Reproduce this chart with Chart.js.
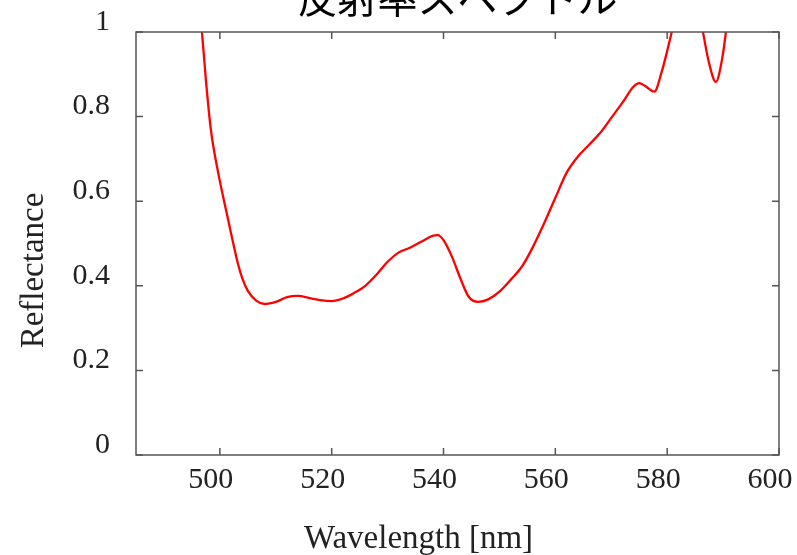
<!DOCTYPE html>
<html lang="ja">
<head>
<meta charset="UTF-8">
<title>反射率スペクトル</title>
<script src="https://cdn.jsdelivr.net/npm/chart.js@4.4.1/dist/chart.umd.min.js"></script>
<style>
  html, body { margin: 0; padding: 0; background: #fff; }
  .wrap { width: 797px; height: 555px; position: relative; }
</style>
</head>
<body>
<div class="wrap"><canvas id="spec"></canvas></div>
<script>
// values
const wavelengths = [495.8, 496.8, 497.5, 498.4, 499.6, 501.1, 502.2, 503.2, 504, 505, 506.5, 508, 510, 512, 514, 516, 518, 520,
  522, 524, 526, 528, 530, 532, 534, 536, 538, 539, 540, 541.5, 543, 544.5, 546.2, 548, 550, 552, 554,
  556, 558, 560, 562, 564, 566, 568, 570, 572, 574, 575, 576, 577.7, 579, 580, 581, 583, 585, 586.4,
  587.5, 588.7, 589.9, 590.5, 591.5];
const reflectance = [1.17, 1.0, 0.887, 0.768, 0.674, 0.579, 0.512, 0.454, 0.418, 0.388, 0.365, 0.357, 0.362, 0.373, 0.376, 0.371, 0.366, 0.364,
  0.37, 0.383, 0.4, 0.426, 0.457, 0.479, 0.49, 0.504, 0.518, 0.52, 0.508, 0.469, 0.418, 0.374, 0.362, 0.368, 0.386, 0.414, 0.445,
  0.492, 0.548, 0.608, 0.667, 0.705, 0.733, 0.761, 0.797, 0.833, 0.871, 0.879, 0.873, 0.859, 0.905, 0.955, 1.01, 1.12, 1.1, 1.0,
  0.926, 0.882, 0.942, 1.0, 1.12];
const xTicks = [500, 520, 540, 560, 580, 600];
const yTicks = [0, 0.2, 0.4, 0.6, 0.8, 1];
const chartTitle = "反射率スペクトル";
const xTitle = "Wavelength [nm]";
const yTitle = "Reflectance";

const serif = "'Liberation Serif', 'Times New Roman', serif";

// box round the plot, inward ticks on all four sides, axis titles
const frame = {
  id: 'frame',
  afterDatasetsDraw(chart) {
    const { ctx, chartArea: a, scales: { x, y } } = chart;
    const len = 7;
    ctx.save();
    ctx.strokeStyle = '#555';
    ctx.lineWidth = 1.5;
    ctx.strokeRect(a.left, a.top, a.right - a.left, a.bottom - a.top);
    ctx.beginPath();
    x.ticks.forEach(t => {
      const px = x.getPixelForValue(t.value);
      ctx.moveTo(px, a.bottom); ctx.lineTo(px, a.bottom - len);
      ctx.moveTo(px, a.top); ctx.lineTo(px, a.top + len);
    });
    y.ticks.forEach(t => {
      const py = y.getPixelForValue(t.value);
      ctx.moveTo(a.left, py); ctx.lineTo(a.left + len, py);
      ctx.moveTo(a.right, py); ctx.lineTo(a.right - len, py);
    });
    ctx.stroke();

    ctx.fillStyle = '#222';
    ctx.font = '33px ' + serif;
    ctx.textAlign = 'center';
    ctx.textBaseline = 'alphabetic';
    ctx.fillText(xTitle, (a.left + a.right) / 2 - 39, a.bottom + 93);
    ctx.translate(a.left - 93, (a.top + a.bottom) / 2 + 27);
    ctx.rotate(-Math.PI / 2);
    ctx.fillText(yTitle, 0, 0);
    ctx.restore();
  }
};

new Chart(document.getElementById('spec'), {
  type: 'line',
  data: {
    datasets: [{
      data: wavelengths.map((w, i) => ({ x: w, y: reflectance[i] })),
      borderColor: '#ff0000',
      borderWidth: 2.3,
      pointRadius: 0,
      fill: false,
      cubicInterpolationMode: 'monotone'
    }]
  },
  plugins: [frame],
  options: {
    responsive: true,
    maintainAspectRatio: false,
    animation: false,
    layout: { padding: { left: 0, right: 18, top: 0, bottom: 0 } },
    plugins: {
      legend: { display: false },
      tooltip: { enabled: false },
      title: {
        display: true,
        text: chartTitle,
        fullSize: false,
        color: '#000',
        font: { family: "'Noto Sans CJK JP', sans-serif", size: 40, weight: 'normal' },
        padding: { top: -26, bottom: 10 }
      }
    },
    scales: {
      x: {
        type: 'linear',
        min: 485,
        max: 600,
        afterBuildTicks: s => { s.ticks = xTicks.map(v => ({ value: v })); },
        afterFit: s => { s.height = 100; s.paddingLeft = 0; s.paddingRight = 0; },
        grid: { display: false, drawTicks: false },
        border: { display: false },
        ticks: {
          font: { family: serif, size: 30 },
          color: '#222',
          padding: 7,
          labelOffset: -9,
          maxRotation: 0,
          autoSkip: false,
          callback: v => String(v)
        }
      },
      y: {
        min: 0,
        max: 1,
        afterBuildTicks: s => { s.ticks = yTicks.map(v => ({ value: v })); },
        afterFit: s => { s.width = 136; s.paddingTop = 0; s.paddingBottom = 0; },
        grid: { display: false, drawTicks: false },
        border: { display: false },
        ticks: {
          font: { family: serif, size: 30 },
          color: '#222',
          padding: 26,
          labelOffset: -10,
          callback: v => String(v)
        }
      }
    }
  }
});
</script>
</body>
</html>
